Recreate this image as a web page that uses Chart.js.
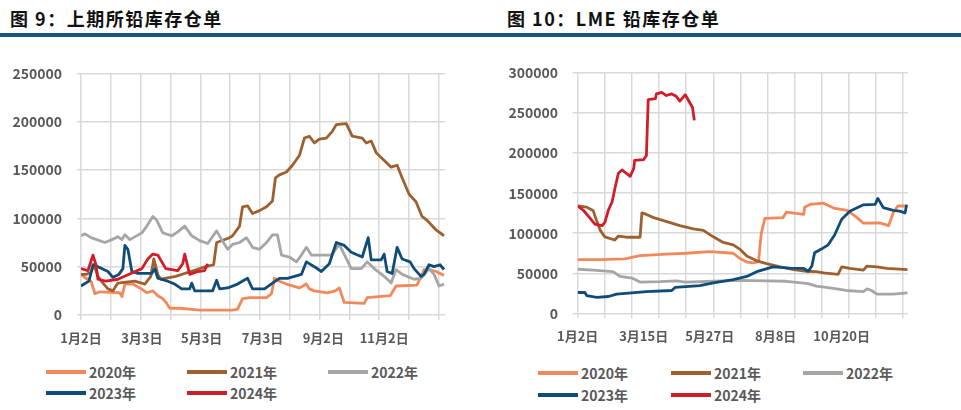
<!DOCTYPE html>
<html>
<head>
<meta charset="utf-8">
<script src="https://cdn.jsdelivr.net/npm/chart.js@4.4.1/dist/chart.umd.min.js"></script>
<style>
    body { margin: 0; width: 961px; height: 410px; background: #fff; position: relative; overflow: hidden; font-family: "Noto Sans CJK SC", sans-serif; }
    .title { position: absolute; top: 5px; font-size: 18px; font-weight: bold; color: #111; letter-spacing: 1.5px; white-space: nowrap; }
    .rule { position: absolute; left: 0; top: 33px; width: 961px; height: 4px; background: #1b5480; }
    canvas { position: absolute; top: 50px; }
    .item { position: absolute; height: 20px; display: flex; align-items: center; white-space: nowrap; font-size: 14px; font-weight: bold; color: #595959; }
    .item i { display: inline-block; width: 40px; height: 4px; margin-right: 3px; }
</style>
</head>
<body>
<div class="title" style="left:10px">图 9：上期所铅库存仓单</div>
<div class="title" style="left:507px">图 10：LME 铅库存仓单</div>
<div class="rule"></div>
<canvas id="shfe" width="480" height="300" style="left:0"></canvas>
<canvas id="lme" width="481" height="300" style="left:480px"></canvas>
<div id="legends"></div>
<script>
    "use strict";

    // Series names and colours
    var years = ["2020年", "2021年", "2022年", "2023年", "2024年"];
    var colors = ["#f2895a", "#9e602f", "#a6a6a6", "#0f4c78", "#d01e28"];

    // SHFE lead warrants (x = days after 1月2日)
    var shfeDays2020 = [0, 5, 10, 14, 19, 39, 41, 44, 52, 59, 66, 72, 77, 82, 86, 89, 99, 119, 152, 157, 162, 169, 186, 191, 194, 199, 206, 219, 226, 229, 234, 247, 255, 259, 264, 284, 287, 310, 316, 337, 344, 349, 356, 364];
    var shfe2020 = [42000, 38000, 35000, 22000, 24000, 23000, 19000, 32000, 32000, 28000, 23000, 25000, 20000, 17000, 12000, 7000, 7000, 5000, 5000, 6000, 17000, 18000, 18000, 22000, 38000, 35000, 32000, 28000, 32000, 27000, 25000, 23000, 25000, 28000, 13000, 12000, 18000, 20000, 30000, 31000, 47000, 47000, 45000, 41000];

    var shfeDays2021 = [0, 5, 10, 13, 17, 22, 27, 32, 37, 45, 54, 64, 70, 73, 77, 80, 95, 110, 125, 133, 136, 149, 152, 159, 162, 167, 172, 179, 186, 192, 195, 199, 206, 212, 219, 224, 229, 234, 239, 246, 252, 256, 266, 272, 282, 286, 291, 296, 302, 311, 317, 322, 329, 336, 342, 347, 356, 364];
    var shfe2021 = [42000, 42000, 44000, 52000, 40000, 33000, 27000, 25000, 33000, 34000, 35000, 32000, 40000, 58000, 42000, 37000, 40000, 45000, 50000, 52000, 75000, 80000, 82000, 92000, 112000, 113000, 105000, 108000, 112000, 118000, 142000, 145000, 148000, 155000, 165000, 183000, 185000, 178000, 182000, 183000, 190000, 197000, 198000, 185000, 183000, 178000, 180000, 168000, 162000, 153000, 155000, 142000, 125000, 117000, 102000, 98000, 88000, 82000];

    var shfeDays2022 = [0, 4, 10, 24, 31, 37, 41, 44, 49, 61, 66, 72, 76, 82, 91, 97, 104, 111, 119, 127, 136, 141, 147, 152, 159, 166, 172, 179, 186, 192, 197, 201, 209, 216, 221, 226, 231, 244, 251, 259, 271, 281, 287, 294, 304, 311, 316, 322, 334, 341, 349, 354, 359, 364];
    var shfe2022 = [82000, 84000, 80000, 75000, 78000, 81000, 78000, 83000, 78000, 85000, 92000, 102000, 98000, 85000, 82000, 86000, 92000, 82000, 77000, 74000, 87000, 78000, 68000, 73000, 75000, 80000, 70000, 68000, 75000, 83000, 83000, 62000, 60000, 55000, 62000, 70000, 62000, 62000, 62000, 73000, 48000, 48000, 55000, 48000, 40000, 33000, 47000, 42000, 37000, 38000, 48000, 42000, 30000, 32000];

    var shfeDays2023 = [0, 8, 12, 17, 27, 32, 38, 42, 44, 47, 51, 57, 71, 74, 77, 87, 94, 101, 109, 111, 114, 132, 136, 139, 147, 157, 167, 172, 184, 192, 199, 207, 221, 226, 234, 241, 249, 256, 264, 271, 282, 288, 291, 301, 304, 307, 312, 317, 322, 330, 334, 341, 344, 349, 354, 360, 364];
    var shfe2023 = [30000, 35000, 52000, 50000, 45000, 39000, 42000, 48000, 72000, 68000, 45000, 43000, 43000, 48000, 38000, 35000, 32000, 27000, 27000, 33000, 25000, 25000, 36000, 27000, 28000, 32000, 38000, 27000, 27000, 33000, 38000, 38000, 42000, 55000, 50000, 45000, 53000, 75000, 72000, 65000, 60000, 80000, 57000, 57000, 63000, 45000, 43000, 70000, 58000, 55000, 48000, 40000, 42000, 52000, 50000, 52000, 47000];

    var shfeDays2024 = [0, 7, 12, 15, 17, 25, 37, 50, 61, 67, 72, 77, 85, 97, 102, 104, 109, 117, 124, 127];
    var shfe2024 = [48000, 46000, 62000, 52000, 37000, 35000, 37000, 43000, 48000, 58000, 63000, 62000, 48000, 46000, 53000, 63000, 42000, 45000, 46000, 53000];

    var shfeTickDays = [0, 61, 121, 182, 243, 304];
    var shfeTickLabels = ["1月2日", "3月3日", "5月3日", "7月3日", "9月2日", "11月2日"];

    // LME lead stocks
    var lmeDays2020 = [0, 25, 52, 69, 98, 120, 146, 172, 180, 187, 194, 200, 203, 207, 227, 231, 250, 251, 257, 272, 283, 298, 309, 316, 334, 344, 349, 354, 365];
    var lme2020 = [67000, 67000, 68000, 72000, 74000, 75000, 77000, 75000, 68000, 64000, 63000, 64500, 99500, 118500, 119500, 126500, 123500, 132500, 136000, 137500, 131500, 128500, 119500, 112500, 113000, 109500, 125500, 134000, 134000];

    var lmeDays2021 = [0, 10, 17, 21, 25, 30, 41, 45, 54, 69, 71, 76, 84, 113, 128, 139, 150, 161, 172, 180, 187, 198, 209, 224, 239, 253, 264, 272, 288, 292, 301, 316, 320, 331, 342, 365];
    var lme2021 = [134000, 132500, 128500, 115500, 103500, 95500, 91500, 96500, 95000, 95000, 125500, 123500, 119500, 109500, 105500, 103500, 95500, 88500, 85500, 79500, 71500, 65500, 62000, 58000, 54500, 52500, 52000, 50500, 48500, 58000, 56000, 54000, 59000, 58000, 56000, 54500];

    var lmeDays2022 = [0, 17, 39, 47, 60, 69, 91, 109, 119, 150, 180, 209, 231, 255, 264, 283, 297, 316, 320, 325, 331, 349, 365];
    var lme2022 = [55000, 54000, 52000, 46000, 44000, 39000, 39500, 40500, 39000, 40000, 41000, 40500, 40000, 37000, 34000, 31000, 28500, 27000, 30500, 28500, 24000, 24000, 25500];

    var lmeDays2023 = [0, 8, 10, 21, 34, 43, 76, 104, 108, 135, 150, 172, 187, 198, 216, 235, 250, 255, 259, 262, 270, 277, 284, 292, 301, 316, 329, 332, 338, 349, 356, 362, 364];
    var lme2023 = [26000, 26000, 22000, 20000, 21000, 24000, 27000, 28500, 32500, 34500, 38000, 42000, 46000, 52000, 58000, 56500, 56000, 52500, 59000, 75500, 80500, 85500, 97500, 117500, 127500, 135500, 136000, 143500, 132000, 128500, 127500, 125500, 135500];

    var lmeDays2024 = [0, 6, 12, 19, 27, 30, 34, 38, 41, 45, 49, 56, 58, 62, 63, 73, 76, 78, 86, 87, 93, 98, 104, 109, 113, 119, 124, 127, 129];
    var lme2024 = [134000, 129000, 121000, 111500, 109500, 113500, 129000, 139000, 155000, 175000, 179000, 173000, 171000, 181000, 191000, 192000, 197000, 267000, 268000, 274000, 276000, 272000, 274000, 271000, 265000, 273000, 263000, 257000, 241000];

    var lmeTickDays = [0, 73, 146, 219, 292];
    var lmeTickLabels = ["1月2日", "3月15日", "5月27日", "8月8日", "10月20日"];

    var gridColor = "#d9d9d9";
    var textColor = "#595959";
    var xFont = { family: "'Noto Sans CJK SC', sans-serif", size: 13, weight: "bold" };
    var yFont = { family: "'Noto Sans CJK SC', sans-serif", size: 14, weight: "bold" };

    function pairs(days, values) {
        return days.map(function (d, i) { return { x: d, y: values[i] }; });
    }

    // gridlines every ~month, labels at their own days
    function buildXTicks(step, count, labelDays, labels) {
        var ticks = [];
        for (var i = 0; i < count; i++) ticks.push({ value: i * step, grid: true, text: "" });
        labelDays.forEach(function (d, i) {
            var hit = ticks.find(function (t) { return Math.abs(t.value - d) < 0.01; });
            if (hit) hit.text = labels[i];
            else ticks.push({ value: d, grid: false, text: labels[i] });
        });
        return ticks.sort(function (a, b) { return a.value - b.value; });
    }

    function makeChart(id, days, values, o) {
        var datasets = values.map(function (v, i) {
            return {
                label: years[i],
                data: pairs(days[i], v),
                borderColor: colors[i],
                backgroundColor: colors[i],
                borderWidth: 2.8,
                pointRadius: 0,
                tension: 0,
                borderJoinStyle: "round",
                order: values.length - i
            };
        });
        return new Chart(document.getElementById(id), {
            type: "line",
            data: { datasets: datasets },
            options: {
                responsive: false,
                animation: false,
                layout: { padding: { top: o.top, right: o.right, left: 0, bottom: 0 } },
                plugins: { legend: { display: false }, tooltip: { enabled: false } },
                scales: {
                    x: {
                        type: "linear",
                        min: 0,
                        max: 365,
                        border: { display: false },
                        grid: {
                            color: function (c) { return c.tick && c.tick.grid ? gridColor : "rgba(0,0,0,0)"; },
                            lineWidth: 1.5,
                            tickLength: 5
                        },
                        ticks: {
                            autoSkip: false,
                            maxRotation: 0,
                            padding: 10,
                            color: textColor,
                            font: xFont,
                            callback: function (v, i, t) { return t[i].text; }
                        },
                        afterBuildTicks: function (s) {
                            s.ticks = buildXTicks(o.gridStep, 13, o.tickDays, o.tickLabels);
                        },
                        afterFit: function (s) { s.height = o.xHeight; }
                    },
                    y: {
                        min: 0,
                        max: o.yMax,
                        border: { display: false },
                        grid: { color: gridColor, lineWidth: 1.5, tickLength: o.yTick },
                        ticks: {
                            stepSize: 50000,
                            padding: o.yPad,
                            color: textColor,
                            font: yFont,
                            callback: function (v) { return String(v); }
                        },
                        afterFit: function (s) { s.width = o.yWidth; }
                    }
                }
            }
        });
    }

    makeChart("shfe",
        [shfeDays2020, shfeDays2021, shfeDays2022, shfeDays2023, shfeDays2024],
        [shfe2020, shfe2021, shfe2022, shfe2023, shfe2024],
        { top: 15.7, right: 35, xHeight: 35, yWidth: 81, yTick: 4, yPad: 15, yMax: 250000,
          gridStep: 29.9, tickDays: shfeTickDays, tickLabels: shfeTickLabels });

    makeChart("lme",
        [lmeDays2020, lmeDays2021, lmeDays2022, lmeDays2023, lmeDays2024],
        [lme2020, lme2021, lme2022, lme2023, lme2024],
        { top: 12.3, right: 53.3, xHeight: 36.7, yWidth: 97.7, yTick: 5, yPad: 14.7, yMax: 300000,
          gridStep: 30, tickDays: lmeTickDays, tickLabels: lmeTickLabels });

    // HTML legends, three per row
    function legend(cols, rows) {
        var box = document.getElementById("legends");
        years.forEach(function (y, i) {
            var el = document.createElement("div");
            el.className = "item";
            el.style.left = cols[i % 3] + "px";
            el.style.top = (rows[Math.floor(i / 3)] - 10) + "px";
            el.innerHTML = '<i style="background:' + colors[i] + '"></i>' + y;
            box.appendChild(el);
        });
    }
    legend([46, 187, 328], [372, 393]);
    legend([538, 671, 803], [373, 395]);
</script>
</body>
</html>
